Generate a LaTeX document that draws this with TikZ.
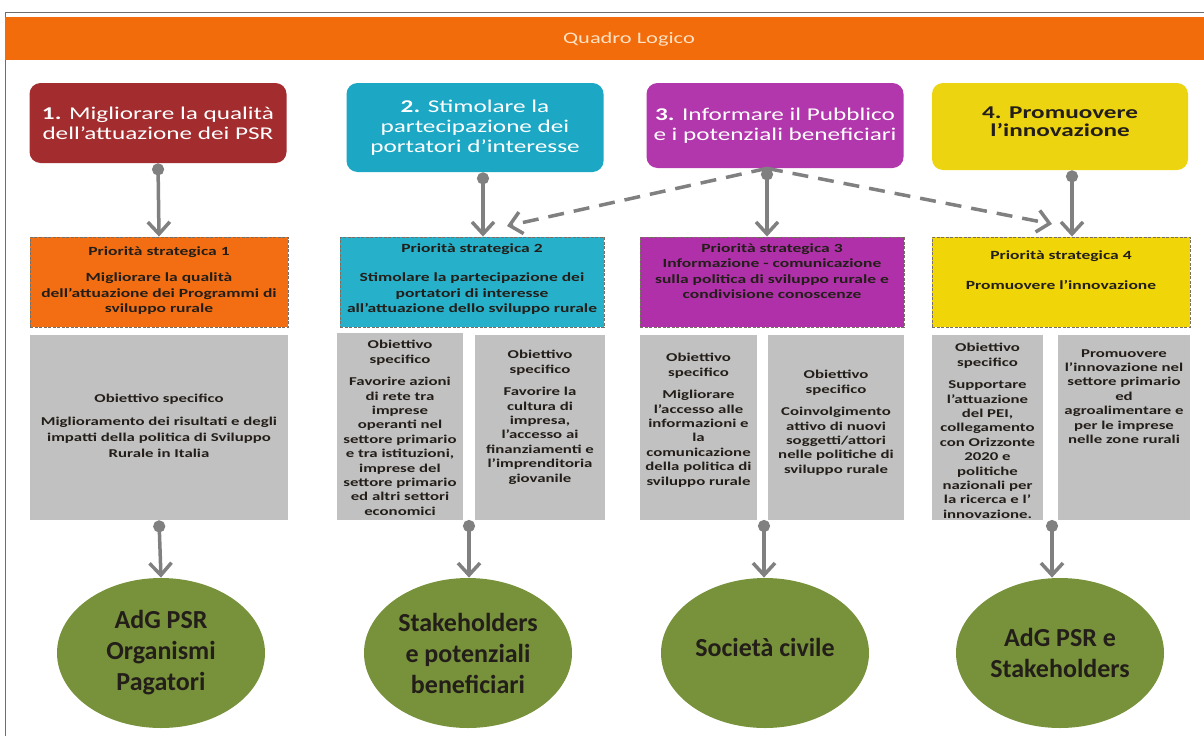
\documentclass[tikz,border=0pt]{standalone}
\usepackage{fontspec}
\setmainfont{Carlito}[FakeStretch=1.4]
\newfontfamily\circfont{Carlito}
\usepackage{tikz}
\usetikzlibrary{arrows.meta,shapes.geometric}
\definecolor{barorange}{RGB}{242,108,12}
\definecolor{titletext}{RGB}{255,226,196}
\definecolor{goalred}{RGB}{163,44,46}
\definecolor{goalteal}{RGB}{28,168,196}
\definecolor{goalmagenta}{RGB}{178,54,172}
\definecolor{goalyellow}{RGB}{236,212,16}
\definecolor{priorange}{RGB}{243,110,18}
\definecolor{priteal}{RGB}{38,176,202}
\definecolor{primagenta}{RGB}{176,48,170}
\definecolor{priyellow}{RGB}{240,214,8}
\definecolor{priborder}{RGB}{120,110,100}
\definecolor{objgray}{RGB}{193,193,193}
\definecolor{flowgray}{RGB}{128,128,128}
\definecolor{targetgreen}{RGB}{119,146,58}
\definecolor{inkdark}{RGB}{35,30,25}
\definecolor{framegray}{RGB}{110,110,110}
\tikzset{every picture/.style={line width=0.75pt},
  goal/.style={rounded corners=11pt, inner sep=0pt, align=center, text=white, font=\fontsize{18}{20}\selectfont},
  prio/.style={draw=priborder, line width=0.9pt, dash pattern=on 3pt off 1.5pt, inner sep=0pt},
  objbox/.style={fill=objgray, inner sep=0pt},
  ptxt/.style={anchor=north, inner sep=0pt, align=center, text=inkdark, font=\bfseries\fontsize{12.5}{15.5}\selectfont},
  otxt/.style={anchor=north, inner sep=0pt, align=center, text=inkdark, font=\bfseries\fontsize{12}{14.4}\selectfont},
  target/.style={ellipse, fill=targetgreen, minimum width=208pt, minimum height=150pt, inner sep=0pt, align=center, text=inkdark, font=\circfont\bfseries\fontsize{26}{31}\selectfont},
  flow/.style={draw=flowgray, line width=3.5pt, {Circle[length=12pt]}-{Straight Barb[length=12pt,width=22pt]}},
  link/.style={draw=flowgray, line width=3.5pt, dash pattern=on 16pt off 10pt, -{Straight Barb[length=12pt,width=22pt]}}
}

\begin{document}
\begin{tikzpicture}[x=1pt,y=1pt,yscale=-1]
\useasboundingbox (0,0) rectangle (1204,736);

%Straight Lines
\draw [framegray, line width=0.8pt] (5,736) -- (5,12) -- (1204,12) ;
%Shape: Rectangle
\fill [barorange] (5,17) rectangle (1204,60) ;
% Text Node
\node (title) at (629,39) [font=\fontsize{16}{18}\selectfont, text=titletext] {Quadro Logico};

%Rounded Rect
\node (t1) at (158,123) [goal, fill=goalred, minimum width=257pt, minimum height=80pt] {\textbf{1.} Migliorare la qualità\\dell’attuazione dei PSR};
%Rounded Rect
\node (t2) at (475,127.5) [goal, fill=goalteal, minimum width=257pt, minimum height=89pt] {\textbf{2.} Stimolare la\\partecipazione dei\\portatori d’interesse};
%Rounded Rect
\node (t3) at (775,125.5) [goal, fill=goalmagenta, minimum width=257pt, minimum height=85pt] {\textbf{3.} Informare il Pubblico\\e i potenziali beneficiari};
%Rounded Rect
\node (t4) at (1060,126.5) [goal, fill=goalyellow, text=inkdark, minimum width=256pt, minimum height=87pt] {\raisebox{9pt}{\shortstack{\textbf{4. Promuovere}\\[2pt]\textbf{l’innovazione}}}};

%Shape: Rectangle
\node (p1) at (159,282) [prio, fill=priorange, minimum width=258pt, minimum height=90pt] {};
\node (p2) at (472,282) [prio, fill=priteal, minimum width=264pt, minimum height=90pt] {};
\node (p3) at (772,282) [prio, fill=primagenta, minimum width=264pt, minimum height=90pt] {};
\node (p4) at (1061,282) [prio, fill=priyellow, minimum width=258pt, minimum height=90pt] {};
% Text Node
\node (p1t) at (159,246) [ptxt] {Priorità strategica 1\\[11pt]Migliorare la qualità\\dell’attuazione dei  Programmi di\\sviluppo rurale};
\node (p2t) at (472,243) [ptxt] {Priorità strategica 2\\[14pt]Stimolare la partecipazione dei\\portatori di interesse\\all’attuazione dello sviluppo rurale};
\node (p3t) at (772,243) [ptxt] {Priorità strategica 3\\Informazione - comunicazione\\sulla politica di sviluppo rurale e\\condivisione conoscenze};
\node (p4t) at (1061,250) [ptxt] {Priorità strategica 4\\[15pt]Promuovere l’innovazione};

%Shape: Rectangle
\node (g1) at (159,427.5) [objbox, minimum width=258pt, minimum height=185pt] {};
\node (g2a) at (400,426.5) [objbox, minimum width=126pt, minimum height=187pt] {};
\node (g2b) at (540,427.5) [objbox, minimum width=130pt, minimum height=185pt] {};
\node (g3a) at (698.5,427.5) [objbox, minimum width=117pt, minimum height=185pt] {};
\node (g3b) at (836,427.5) [objbox, minimum width=136pt, minimum height=185pt] {};
\node (g4a) at (987.5,427.5) [objbox, minimum width=111pt, minimum height=185pt] {};
\node (g4b) at (1124,427.5) [objbox, minimum width=132pt, minimum height=185pt] {};
% Text Node
\node (g1t) at (159,394) [otxt, font=\bfseries\fontsize{12}{16}\selectfont] {Obiettivo specifico\\[7pt]Miglioramento dei risultati e degli\\impatti della politica di Sviluppo\\Rurale in Italia};
\node (g2at) at (400,340) [otxt] {Obiettivo\\specifico\\[8pt]Favorire azioni\\di rete tra\\imprese\\operanti nel\\settore primario\\e  tra istituzioni,\\imprese del\\settore primario\\ed altri settori\\economici};
\node (g2bt) at (540,350) [otxt] {Obiettivo\\specifico\\[8pt]Favorire la\\cultura di\\impresa,\\l’accesso ai\\finanziamenti e\\l’imprenditoria\\giovanile};
\node (g3at) at (698.5,353) [otxt] {Obiettivo\\specifico\\[8pt]Migliorare\\l’accesso alle\\informazioni e\\la\\comunicazione\\della politica di\\sviluppo rurale};
\node (g3bt) at (836,370) [otxt] {Obiettivo\\specifico\\[8pt]Coinvolgimento\\attivo di nuovi\\soggetti/attori\\nelle politiche di\\sviluppo rurale};
\node (g4at) at (987.5,343) [otxt] {Obiettivo\\specifico\\[8pt]Supportare\\l’attuazione\\del PEI,\\collegamento\\con Orizzonte\\2020 e\\politiche\\nazionali per\\la ricerca e l’\\innovazione.};
\node (g4bt) at (1124,349) [otxt] {Promuovere\\l’innovazione nel\\settore primario\\ed\\agroalimentare e\\per le imprese\\nelle zone rurali};

%Shape: Ellipse
\node (c1) at (161,653) [target] {AdG PSR\\Organismi\\Pagatori};
\node (c2) at (468,653) [target] {Stakeholders\\e potenziali\\beneficiari};
\node (c3) at (765,653) [target] {\raisebox{12pt}{Società civile}};
\node (c4) at (1060,653) [target] {AdG PSR e\\Stakeholders};

\coordinate (d2) at (469,520);
\coordinate (d3) at (764,520);
\coordinate (d4) at (1052,520);
\coordinate (e2) at (507,226);
\coordinate (e4) at (1052,224);

%Straight Lines
\draw [flow] (t1.south) -- (p1.north) ;
\draw [flow] ([xshift=8pt]t2.south) -- ([xshift=8pt]t2.south |- p2.north) ;
\draw [flow] ([xshift=-8pt]t3.south) -- ([xshift=-8pt]t3.south |- p3.north) ;
\draw [flow] ([xshift=12pt]t4.south) -- ([xshift=12pt]t4.south |- p4.north) ;
\draw [link] ([xshift=-8pt]t3.south) -- (e2) ;
\draw [link] ([xshift=-8pt]t3.south) -- (e4) ;

\draw [flow] (g1.south) -- (c1.north) ;
\draw [flow] (d2) -- (d2 |- c2.north) ;
\draw [flow] (d3) -- (d3 |- c3.north) ;
\draw [flow] (d4) -- (d4 |- c4.north) ;

\end{tikzpicture}
\end{document}
